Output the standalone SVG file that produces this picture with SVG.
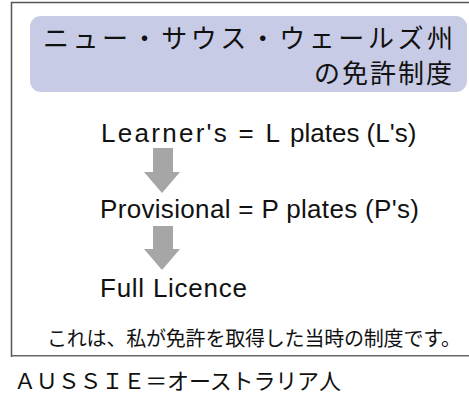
<svg xmlns="http://www.w3.org/2000/svg" width="469" height="393" viewBox="0 0 469 393">
<defs>
<style>
.jp{font-family:"Noto Sans CJK JP","Noto Sans",sans-serif;fill:#111}
.en{font-family:"Liberation Sans",Arial,sans-serif;fill:#111;font-size:26px}
.arrow{fill:#a6a6a6}
</style>
</defs>
<rect x="0" y="0" width="469" height="393" fill="#ffffff"/>
<g id="frame">
<path d="M11.5,357 V2.5 H470" fill="none" stroke="#555555" stroke-width="1.5"/>
<path d="M11,355.7 H470" fill="none" stroke="#666666" stroke-width="1.5"/>
</g>
<g id="title">
<rect x="30" y="16" width="437" height="76" rx="11" ry="11" fill="#c8cbe5"/>
<text class="jp" x="43" y="47.5" font-size="26" textLength="410" lengthAdjust="spacing">ニュー・サウス・ウェールズ州</text>
<text class="jp" x="454" y="82.5" font-size="26" text-anchor="end" letter-spacing="2">の免許制度</text>
</g>
<g id="learner">
<text class="en" x="101" y="141.5"><tspan textLength="179" lengthAdjust="spacing">Learner's = L</tspan><tspan x="290">plates (L's)</tspan></text>
</g>
<g id="provisional">
<text class="en" x="100" y="218" textLength="319" lengthAdjust="spacing">Provisional = P plates (P's)</text>
</g>
<g id="full">
<text class="en" x="100" y="296.5" textLength="147" lengthAdjust="spacing">Full Licence</text>
</g>
<g id="connectors">
<polygon class="arrow" points="153,148 173,148 173,172 180,172 162,193 144,172 153,172"/>
<polygon class="arrow" points="153,226 173,226 173,249 180,249 162,270 144,249 153,249"/>
</g>
<g id="note">
<text class="jp" x="47" y="345.5" font-size="20" textLength="414" lengthAdjust="spacing">これは、私が免許を取得した当時の制度です。</text>
</g>
<g id="aussie">
<text class="jp" x="14" y="388.5" font-size="22" textLength="327" lengthAdjust="spacing">ＡＵＳＳＩＥ＝オーストラリア人</text>
</g>
</svg>
